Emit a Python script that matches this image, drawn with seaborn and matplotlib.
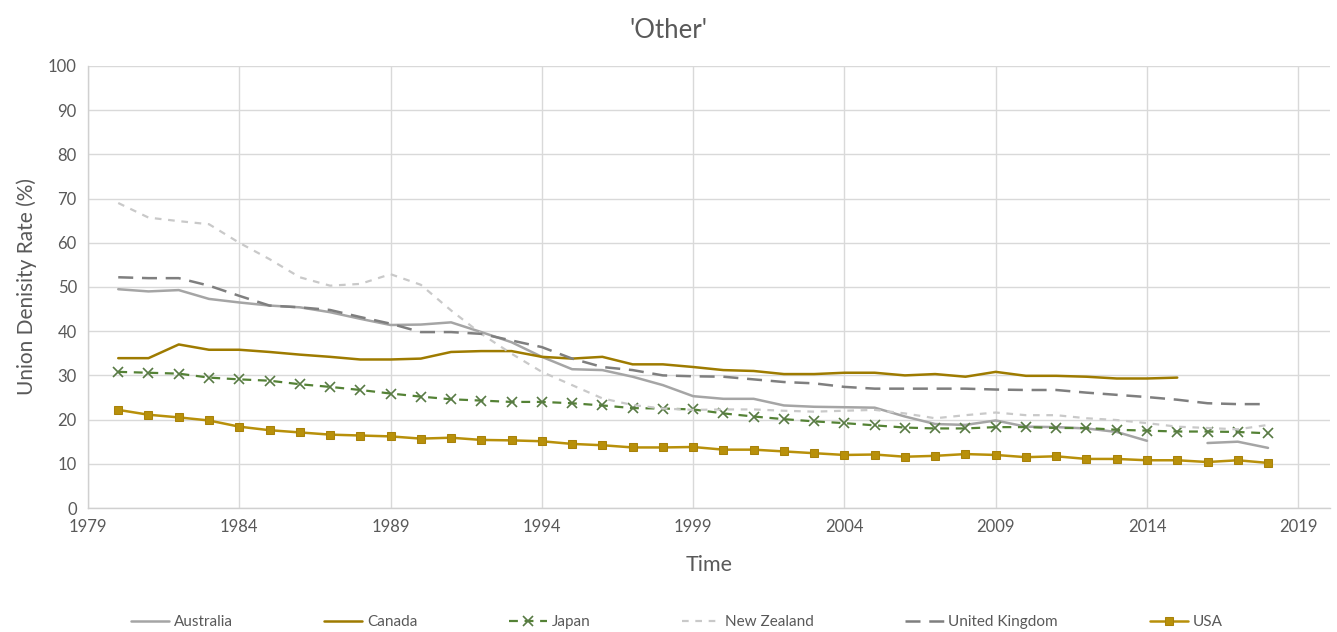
import numpy as np
import pandas as pd
import matplotlib
matplotlib.use("Agg")
import matplotlib.pyplot as plt
import seaborn as sns

years = list(range(1980, 2019))

australia = [49.5, 49.0, 49.3, 47.3, 46.5, 45.8, 45.4, 44.3, 42.8, 41.4,
             41.5, 42.0, 39.8, 37.5, 34.2, 31.4, 31.2, 29.7, 27.8, 25.3,
             24.7, 24.7, 23.2, 22.9, 22.8, 22.7, 20.7, 19.0, 18.8, 19.8,
             18.4, 18.3, 18.0, 17.2, 15.2, np.nan, 14.7, 15.0, 13.6]

canada = [33.9, 33.9, 37.0, 35.8, 35.8, 35.3, 34.7, 34.2, 33.6, 33.6,
          33.8, 35.3, 35.5, 35.5, 34.2, 33.8, 34.2, 32.5, 32.5, 31.9,
          31.2, 31.0, 30.3, 30.3, 30.6, 30.6, 30.0, 30.3, 29.7, 30.8,
          29.9, 29.9, 29.7, 29.3, 29.3, 29.5, np.nan, np.nan, np.nan]

japan = [30.8, 30.6, 30.4, 29.5, 29.1, 28.8, 28.0, 27.4, 26.7, 25.9,
         25.2, 24.6, 24.3, 24.0, 24.0, 23.7, 23.2, 22.6, 22.5, 22.3,
         21.4, 20.7, 20.1, 19.6, 19.2, 18.7, 18.2, 18.0, 18.0, 18.3,
         18.3, 18.1, 18.1, 17.7, 17.5, 17.3, 17.3, 17.2, 16.9]

new_zealand = [69.0, 65.7, 64.9, 64.2, 60.0, 56.3, 52.2, 50.3, 50.7, 52.9,
               50.5, 44.7, 39.4, 34.9, 30.8, 27.8, 24.8, 23.3, 22.5, 22.2,
               22.3, 22.3, 22.0, 21.8, 22.0, 22.2, 21.4, 20.3, 21.0, 21.6,
               21.0, 21.0, 20.3, 19.9, 19.2, 18.4, 18.1, 17.8, 18.8]

united_kingdom = [52.2, 52.0, 52.0, 50.3, 48.0, 45.8, 45.4, 44.8, 43.2, 41.7,
                  39.8, 39.8, 39.4, 37.9, 36.4, 33.8, 31.9, 31.2, 30.0, 29.8,
                  29.7, 29.1, 28.5, 28.2, 27.4, 27.0, 27.0, 27.0, 27.0, 26.8,
                  26.7, 26.7, 26.1, 25.6, 25.1, 24.5, 23.7, 23.5, 23.5]

usa = [22.2, 21.1, 20.5, 19.8, 18.4, 17.6, 17.1, 16.6, 16.4, 16.2,
       15.7, 15.9, 15.4, 15.3, 15.1, 14.5, 14.2, 13.7, 13.7, 13.8,
       13.2, 13.2, 12.8, 12.4, 12.0, 12.1, 11.6, 11.8, 12.2, 12.0,
       11.5, 11.7, 11.1, 11.1, 10.8, 10.8, 10.4, 10.8, 10.2]

countries = ["Australia", "Canada", "Japan", "New Zealand", "United Kingdom", "USA"]
series = [australia, canada, japan, new_zealand, united_kingdom, usa]

x_ticks = list(range(1979, 2020, 5))
y_ticks = list(range(0, 101, 10))

styles = {
    "Australia":      dict(color="#A5A5A5", dashes=None,      marker=None, lw=1.8),
    "Canada":         dict(color="#9E7B00", dashes=None,      marker=None, lw=1.8),
    "Japan":          dict(color="#548235", dashes=(4, 3),    marker="x",  lw=1.6),
    "New Zealand":    dict(color="#C9C9C9", dashes=(3, 3),    marker=None, lw=1.6),
    "United Kingdom": dict(color="#7F7F7F", dashes=(6, 3.5),  marker=None, lw=1.8),
    "USA":            dict(color="#B8900A", dashes=None,      marker="s",  lw=1.8),
}

sns.set_theme(style="white")
plt.rcParams["font.family"] = ["Lato", "DejaVu Sans"]

fig = plt.figure(figsize=(13.37, 6.32), dpi=100)
ax = fig.add_axes([0.0658, 0.1962, 0.9290, 0.6994])

handles = []
for name, vals in zip(countries, series):
    st = styles[name]
    df = pd.DataFrame({"Year": years, "Rate": vals})
    # split on gaps so missing years break the line
    grp = df["Rate"].isna().cumsum()
    seg_df = df[df["Rate"].notna()].assign(seg=grp[df["Rate"].notna()])
    for _, seg in seg_df.groupby("seg"):
        sns.lineplot(data=seg, x="Year", y="Rate", ax=ax, color=st["color"],
                     lw=st["lw"], estimator=None, sort=True, legend=False)
        line = ax.lines[-1]
        if st["dashes"] is not None:
            line.set_dashes(st["dashes"])
        if st["marker"] == "s":
            line.set_marker("s")
            line.set_markersize(6)
            line.set_markerfacecolor(st["color"])
            line.set_markeredgecolor("#A8820A")
        elif st["marker"] == "x":
            line.set_marker("x")
            line.set_markersize(6.5)
            line.set_markeredgewidth(1.2)
            line.set_markeredgecolor("#587A44")
    handles.append(line)

ax.set_xlim(1979, 2020.05)
ax.set_ylim(0, 100)
ax.set_xticks(x_ticks)
ax.set_yticks(y_ticks)
ax.grid(True, color="#D9D9D9", lw=1.0)
ax.set_axisbelow(True)
for side in ["top", "right"]:
    ax.spines[side].set_visible(False)
for side in ["left", "bottom"]:
    ax.spines[side].set_color("#D0D0D0")
    ax.spines[side].set_linewidth(1.0)
ax.tick_params(axis="both", colors="#595959", labelsize=12, length=0, pad=8)

ax.set_xlabel("Time", fontsize=15.5, color="#595959", labelpad=14)
ax.set_ylabel("Union Denisity Rate (%)", fontsize=15, color="#595959", labelpad=8)
fig.text(0.5, 0.952, "'Other'", fontsize=18.5, color="#595959",
         ha="center", va="center")

leg = fig.legend(handles, countries, loc="center", bbox_to_anchor=(0.506, 0.016),
                 ncol=6, frameon=False, fontsize=11, columnspacing=6.0,
                 handlelength=2.5, handletextpad=0.3)
for t in leg.get_texts():
    t.set_color("#595959")

fig.savefig("out.png", dpi=100)
